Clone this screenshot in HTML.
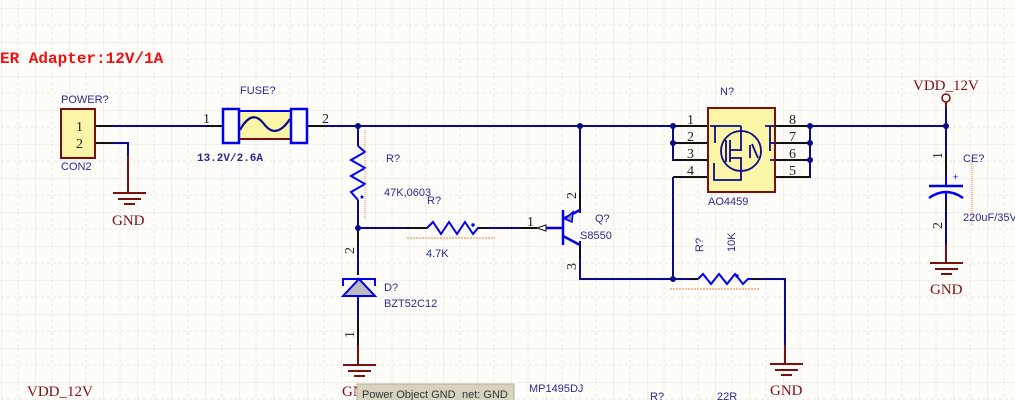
<!DOCTYPE html>
<html><head><meta charset="utf-8"><style>
html,body{margin:0;padding:0;width:1015px;height:400px;overflow:hidden;background:#fdfcf8}
svg{display:block}
.t{font-family:"Liberation Sans",sans-serif;font-size:11px;fill:#2b2b8c}
.n{font-family:"Liberation Serif",serif;font-size:14px;fill:#222}
.g{font-family:"Liberation Serif",serif;font-size:15px;fill:#7a1010}
</style></head><body>
<svg width="1015" height="400" xmlns="http://www.w3.org/2000/svg">
<defs>
<pattern id="grid" x="1" y="8" width="34" height="34" patternUnits="userSpaceOnUse">
<path d="M0 0V34M0 0H34" stroke="#e6e4dc" stroke-width="1" fill="none"/>
<path d="M17 0V34M0 17H34" stroke="#ebe9e2" stroke-width="1" stroke-dasharray="3,3" fill="none"/>
</pattern>
</defs>
<rect width="1015" height="400" fill="url(#grid)"/>
<text x="0" y="63" font-family="Liberation Mono,monospace" font-weight="bold" font-size="16" fill="#ee1111">ER Adapter:12V/1A</text>

<g stroke="#0a0a8a" stroke-width="2" fill="none">
<path d="M113 126H206M325 126H946"/>
<path d="M113 143H128V155"/>
<path d="M358 126V146M358 200V228V275M358 296V320M358 345V362"/>
<path d="M358 228H405M488 228H520"/>
<path d="M580 126V190M580 258V279H673"/>
<path d="M673 126V160H708M673 143H708M673 177H708M673 177V279H690M760 279H785V345"/>
<path d="M708 126H690M775 126H810V177H775M775 143H810M775 160H810"/>
<path d="M946 108V125M946 127V155M946 210V245"/>
</g>
<g stroke="#111" stroke-width="2">
<path d="M95 126H113M95 143H113M206 126H222M308 126H325"/>
<path d="M358 228V247M358 320V345M580 190V213M580 241V258M520 228H537"/>
<path d="M673 126H708M673 143H708M673 160H708M673 177H708M775 126H810M775 143H810M775 160H810M775 177H810"/>
<path d="M946 155V175M946 200V210M690 279H698M752 279H760"/>
</g>
<g stroke="#7a1010" stroke-width="2">
<path d="M128 155V193M113 193H146M118 199H141M124 204H135"/>
<path d="M358 345V365M343 365H376M348 371H371M354 376H365"/>
<path d="M785 345V364M770 364H803M775 370H798M781 375H792"/>
<path d="M946 245V263M930 263H963M935 269H958M941 274H952"/>
</g>
<text class="g" x="112" y="225">GND</text>
<text class="g" x="770" y="395">GND</text>
<text class="g" x="930" y="294">GND</text>
<text class="g" x="342" y="396">GND</text>
<rect x="61" y="109" width="34" height="49" fill="#fbf5a8" stroke="#7a1010" stroke-width="2"/>
<text class="n" x="76" y="131" font-size="13">1</text>
<text class="n" x="76" y="148" font-size="13">2</text>
<text class="t" x="61" y="103">POWER?</text>
<text class="t" x="61" y="170">CON2</text>
<rect x="239" y="111" width="51" height="28" fill="#fbf5a8" stroke="none"/>
<path d="M239 111H290" stroke="#0000ee" stroke-width="2"/>
<path d="M239 139H290" stroke="#7a1010" stroke-width="2"/>
<path d="M240 130Q252 108 264 124T290 119" stroke="#0a0a8a" stroke-width="2.2" fill="none"/>
<rect x="223" y="109" width="16" height="34" fill="#fdfcf8" stroke="#0000ee" stroke-width="2.5"/>
<rect x="291" y="109" width="16" height="34" fill="#fdfcf8" stroke="#0000ee" stroke-width="2.5"/>
<text class="n" x="203" y="123">1</text><text class="n" x="322" y="123">2</text>
<text class="t" x="240" y="94">FUSE?</text>
<text x="197" y="161" font-family="Liberation Mono,monospace" font-weight="bold" font-size="11" fill="#2b2b8c">13.2V/2.6A</text>
<g fill="#0a0a8a">
<circle cx="358" cy="126" r="3"/><circle cx="358" cy="228" r="3"/><circle cx="580" cy="126" r="3"/>
<circle cx="673" cy="126" r="3"/><circle cx="673" cy="143" r="3"/><circle cx="673" cy="279" r="3"/>
<circle cx="810" cy="126" r="3"/><circle cx="810" cy="143" r="3"/><circle cx="810" cy="160" r="3"/>
<circle cx="946" cy="126" r="3"/>
</g>
<path d="M358 146L365 152L351 160L365 168L351 176L365 184L351 192L358 200" stroke="#0000ee" stroke-width="2" fill="none"/>
<circle cx="362" cy="197" r="1.5" fill="#0000ee"/>
<path d="M365 130V220" stroke="#f08040" stroke-width="1" stroke-dasharray="1,1"/>
<text class="t" x="386" y="162">R?</text>
<text class="t" x="384" y="196">47K,0603</text>
<path d="M405 228H427L433 222L441 234L449 222L457 234L465 222L473 234L478 228H488" stroke="#0000ee" stroke-width="2" fill="none"/>
<path d="M405 228H427M478 228H488" stroke="#111" stroke-width="2"/>
<circle cx="473" cy="225" r="1.7" fill="#0000ee"/>
<path d="M407 238H495" stroke="#f08040" stroke-width="1" stroke-dasharray="2,1"/>
<text class="t" x="427" y="204">R?</text>
<text class="t" x="426" y="257">4.7K</text>
<path d="M537 228L546 225V231Z" fill="#fff" stroke="#111" stroke-width="1"/>
<path d="M546 228H563M563 210V245M563 219L580 210M563 236L580 245" stroke="#0000ee" stroke-width="2.5" fill="none"/>
<path d="M565 219L573 212L572 222Z" fill="#999" stroke="#0000ee" stroke-width="1.5"/>
<text class="n" x="527" y="226">1</text>
<text class="n" x="566" y="197" transform="rotate(-90 572 193)" font-size="13">2</text>
<text class="n" x="566" y="268" transform="rotate(-90 572 264)" font-size="13">3</text>
<text class="t" x="595" y="222">Q?</text>
<text class="t" x="580" y="239">S8550</text>
<path d="M343 286V279H375V286" stroke="#0000ee" stroke-width="2" fill="none"/>
<path d="M343 296L359 279L375 296Z" fill="#bdbdbd" stroke="#0000ee" stroke-width="2"/>
<path d="M358 296V300" stroke="#0000ee" stroke-width="2"/>
<text class="n" x="342" y="250" transform="rotate(-90 350 246)" font-size="13">2</text>
<text class="n" x="342" y="334" transform="rotate(-90 350 330)" font-size="13">1</text>
<text class="t" x="384" y="291">D?</text>
<text class="t" x="384" y="307">BZT52C12</text>
<rect x="708" y="108" width="67" height="84" fill="#fbf5a8" stroke="#7a1010" stroke-width="2"/>
<g stroke="#0a0a8a" stroke-width="1.8" fill="none">
<circle cx="741" cy="151" r="20"/>
<path d="M741 126V151M715 126V143M710 126H741M770 126V151M765 126H775M770 143H775M770 160H775"/>
<path d="M726 140V162M730 140V162M730 150H741M730 158H741V180H714V163"/>
<path d="M750 145V158M752 144L758 158"/>
</g>
<text class="n" x="687" y="124" font-size="13">1</text><text class="n" x="687" y="141" font-size="13">2</text>
<text class="n" x="687" y="158" font-size="13">3</text><text class="n" x="687" y="175" font-size="13">4</text>
<text class="n" x="789" y="124" font-size="13">8</text><text class="n" x="789" y="141" font-size="13">7</text>
<text class="n" x="789" y="158" font-size="13">6</text><text class="n" x="789" y="175" font-size="13">5</text>
<text class="t" x="720" y="95">N?</text>
<text class="t" x="708" y="205">AO4459</text>
<path d="M698 279L703 274L711 284L719 274L727 284L735 274L743 284L748 279H752" stroke="#0000ee" stroke-width="2" fill="none"/>
<circle cx="737" cy="276" r="1.7" fill="#0000ee"/>
<path d="M670 289H760" stroke="#f08040" stroke-width="1" stroke-dasharray="2,1"/>
<text class="t" x="0" y="0" transform="translate(703 252) rotate(-90)">R?</text>
<text class="t" x="0" y="0" transform="translate(735 252) rotate(-90)">10K</text>
<circle cx="946" cy="98" r="4" fill="#fdfcf8" stroke="#7a1010" stroke-width="1.5"/>
<path d="M946 102V108" stroke="#7a1010" stroke-width="2"/>
<text class="g" x="913" y="90">VDD_12V</text>
<path d="M929 186H963" stroke="#0000ee" stroke-width="2.5"/>
<path d="M929 198Q946 186 963 198" stroke="#0000ee" stroke-width="2.5" fill="none"/>
<path d="M946 175V186M946 192V200" stroke="#0000ee" stroke-width="2"/>
<text x="953" y="180" font-family="Liberation Sans" font-size="9" fill="#0000ee">+</text>
<path d="M972 158V225" stroke="#f08040" stroke-width="1" stroke-dasharray="1,1"/>
<text class="n" x="930" y="155" transform="rotate(-90 938 151)" font-size="13">1</text>
<text class="n" x="930" y="225" transform="rotate(-90 938 221)" font-size="13">2</text>
<text class="t" x="963" y="162">CE?</text>
<text class="t" x="963" y="221">220uF/35V</text>
<text class="g" x="27" y="396">VDD_12V</text>
<text class="t" x="529" y="392">MP1495DJ</text>
<text class="t" x="650" y="400">R?</text>
<text class="t" x="717" y="400">22R</text>
<rect x="357" y="384" width="157" height="18" fill="#d8d2c0" stroke="#b5ae98"/>
<text x="362" y="398" font-family="Liberation Sans" font-size="11" fill="#333">Power Object GND</text>
<text x="462" y="398" font-family="Liberation Sans" font-size="11" fill="#333">net: GND</text>
</svg>
</body></html>
